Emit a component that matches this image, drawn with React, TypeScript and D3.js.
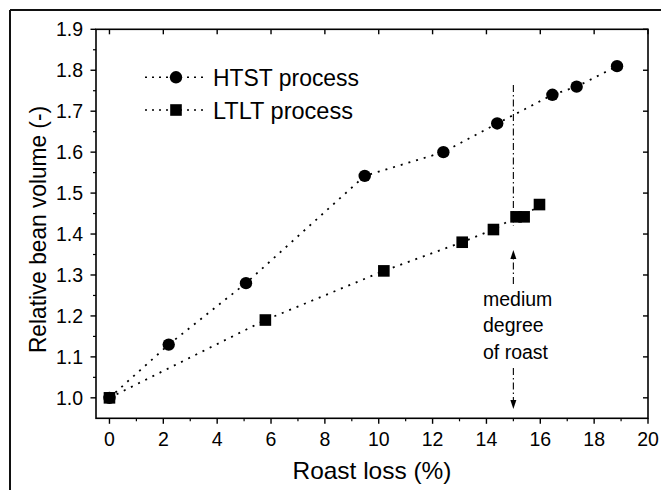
import React from "react";
import * as d3 from "d3";

const htstX = [0, 2.2, 5.07, 9.48, 12.4, 14.4, 16.45, 17.35, 18.85];
const htstY = [1.0, 1.13, 1.28, 1.542, 1.6, 1.67, 1.74, 1.76, 1.81];
const ltltX = [0, 5.79, 10.19, 13.1, 14.26, 15.1, 15.4, 15.97];
const ltltY = [1.0, 1.19, 1.31, 1.38, 1.411, 1.442, 1.442, 1.472];
const xTicks = [0, 2, 4, 6, 8, 10, 12, 14, 16, 18, 20];
const xMinor = [1, 3, 5, 7, 9, 11, 13, 15, 17, 19];
const yTicks = [1.0, 1.1, 1.2, 1.3, 1.4, 1.5, 1.6, 1.7, 1.8, 1.9];
const yMinor = [1.05, 1.15, 1.25, 1.35, 1.45, 1.55, 1.65, 1.75, 1.85];
const seriesNames = ["HTST process", "LTLT process"];
const annotLines = ["medium", "degree", "of roast"];
const annotX = 15;

const W = 661;
const H = 490;
const L = 96, R = 648, T = 29.3, B = 418.3;
const FONT = "'Liberation Sans', Arial, Helvetica, sans-serif";

export default function App() {
  const x = d3.scaleLinear().domain([-0.5, 20]).range([L, R]);
  const y = d3.scaleLinear().domain([0.95, 1.9]).range([B, T]);
  const line = d3
    .line<[number, number]>()
    .x((d) => x(d[0]))
    .y((d) => y(d[1]));
  const htst: [number, number][] = htstX.map((v, i) => [v, htstY[i]]);
  const ltlt: [number, number][] = ltltX.map((v, i) => [v, ltltY[i]]);
  const ax = x(annotX);
  const dotted = "2 6";
  const dashDot = "7 3 1.5 3";
  return (
    <div style={{ position: "absolute", left: 0, top: 0 }}>
      <svg width={W} height={H} style={{ display: "block", background: "#fff" }} fontFamily={FONT}>
        {/* outer frame (top and left) */}
        <line x1={10} y1={10} x2={W} y2={10} stroke="#111" strokeWidth={2} />
        <line x1={10} y1={10} x2={10} y2={H} stroke="#111" strokeWidth={2} />

        {/* plot frame */}
        <rect x={L} y={T} width={R - L} height={B - T} fill="none" stroke="#000" strokeWidth={1.6} />

        {/* bottom ticks */}
        {xTicks.map((t) => (
          <line key={"xb" + t} x1={x(t)} x2={x(t)} y1={B} y2={B + 5.5} stroke="#000" strokeWidth={1.4} />
        ))}
        {xMinor.map((t) => (
          <line key={"xbm" + t} x1={x(t)} x2={x(t)} y1={B} y2={B + 3} stroke="#000" strokeWidth={1.2} />
        ))}
        {/* top ticks */}
        {xTicks.map((t) => (
          <line key={"xt" + t} x1={x(t)} x2={x(t)} y1={T} y2={T + 5} stroke="#000" strokeWidth={1.4} />
        ))}
        {/* left ticks */}
        {yTicks.map((t) => (
          <line key={"yl" + t} x1={L - 5.5} x2={L} y1={y(t)} y2={y(t)} stroke="#000" strokeWidth={1.4} />
        ))}
        {yMinor.map((t) => (
          <line key={"ylm" + t} x1={L - 3} x2={L} y1={y(t)} y2={y(t)} stroke="#000" strokeWidth={1.2} />
        ))}
        {/* right ticks */}
        {yTicks.map((t) => (
          <line key={"yr" + t} x1={R - 5} x2={R} y1={y(t)} y2={y(t)} stroke="#000" strokeWidth={1.4} />
        ))}

        {/* tick labels */}
        {xTicks.map((t) => (
          <text key={"xl" + t} x={x(t)} y={445.5} textAnchor="middle" fontSize={19.5} fill="#000">
            {t}
          </text>
        ))}
        {yTicks.map((t) => (
          <text key={"ylb" + t} x={83} y={y(t) + 7} textAnchor="end" fontSize={19.5} fill="#000">
            {t.toFixed(1)}
          </text>
        ))}

        {/* axis titles */}
        <text x={(L + R) / 2} y={479} textAnchor="middle" fontSize={24} fill="#000" textLength={159} lengthAdjust="spacingAndGlyphs">
          Roast loss (%)
        </text>
        <text
          transform={`translate(46,229.5) rotate(-90)`}
          textAnchor="middle"
          fontSize={24}
          fill="#000"
          textLength={247}
          lengthAdjust="spacingAndGlyphs"
        >
          Relative bean volume (-)
        </text>

        {/* data lines */}
        <path d={line(htst) || ""} fill="none" stroke="#000" strokeWidth={1.8} strokeDasharray={dotted} />
        <path d={line(ltlt) || ""} fill="none" stroke="#000" strokeWidth={1.8} strokeDasharray={dotted} />

        {/* annotation */}
        <line x1={ax} x2={ax} y1={85} y2={226} stroke="#000" strokeWidth={1.1} strokeDasharray={dashDot} />
        <line x1={ax} x2={ax} y1={284} y2={258} stroke="#000" strokeWidth={1.1} strokeDasharray={dashDot} />
        <path d={`M${ax},250 L${ax - 3},259 L${ax + 3},259 Z`} fill="#000" />
        <line x1={ax} x2={ax} y1={368} y2={400} stroke="#000" strokeWidth={1.1} strokeDasharray={dashDot} />
        <path d={`M${ax},409 L${ax - 3},400 L${ax + 3},400 Z`} fill="#000" />
        {annotLines.map((s, i) => (
          <text key={s} x={483} y={306 + i * 26.3} fontSize={19.5} fill="#000">
            {s}
          </text>
        ))}

        {/* markers */}
        {htst.map((d, i) => (
          <circle key={"c" + i} cx={x(d[0])} cy={y(d[1])} r={6.2} fill="#000" />
        ))}
        {ltlt.map((d, i) => (
          <rect key={"s" + i} x={x(d[0]) - 5.8} y={y(d[1]) - 5.8} width={11.6} height={11.6} fill="#000" />
        ))}

        {/* legend */}
        <line x1={145} x2={205} y1={77.3} y2={77.3} stroke="#000" strokeWidth={1.6} strokeDasharray="2 5" />
        <circle cx={176} cy={77.3} r={6.2} fill="#000" />
        <text x={213} y={86} fontSize={24} fill="#000" textLength={146} lengthAdjust="spacingAndGlyphs">
          {seriesNames[0]}
        </text>
        <line x1={145} x2={205} y1={110} y2={110} stroke="#000" strokeWidth={1.6} strokeDasharray="2 5" />
        <rect x={176 - 5.8} y={110 - 5.8} width={11.6} height={11.6} fill="#000" />
        <text x={213} y={119} fontSize={24} fill="#000" textLength={140} lengthAdjust="spacingAndGlyphs">
          {seriesNames[1]}
        </text>
      </svg>
    </div>
  );
}
